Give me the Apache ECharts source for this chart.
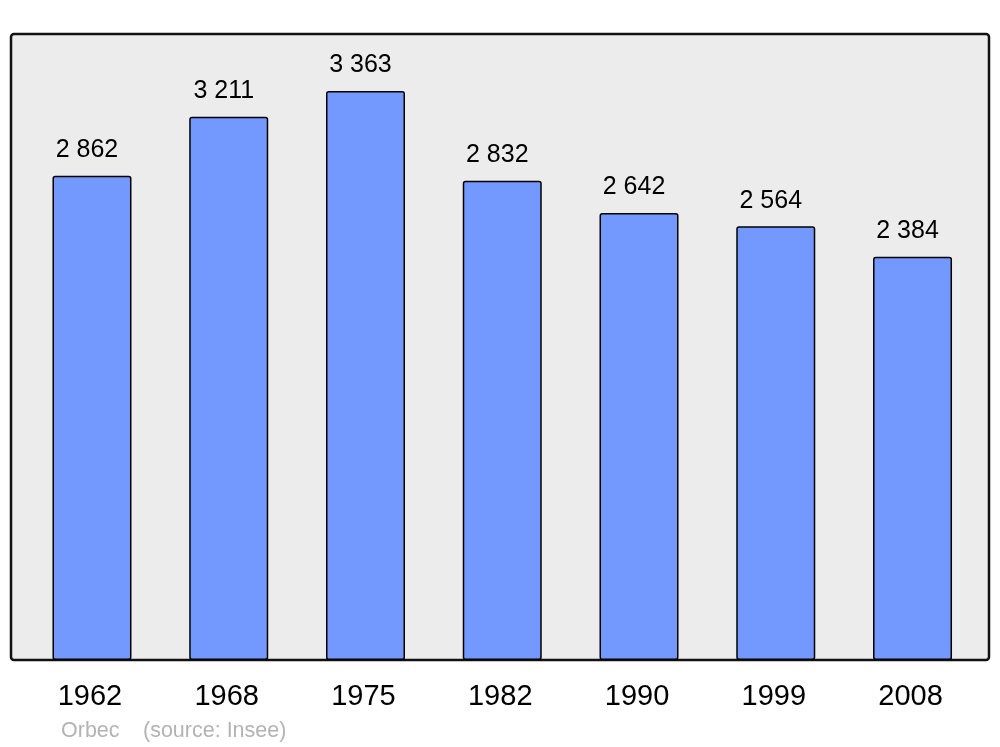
<!DOCTYPE html>
<html><head><meta charset="utf-8">
<script src="https://cdn.jsdelivr.net/npm/echarts@6/dist/echarts.min.js"></script>
<style>html,body{margin:0;padding:0;background:#fff}#c{width:1000px;height:747px}</style>
</head><body><div id="c"></div>
<script>
var years = ['1962','1968','1975','1982','1990','1999','2008'];
var population = [2862, 3211, 3363, 2832, 2642, 2564, 2384];
var footerPlace = 'Orbec';
var footerSource = '(source: Insee)';

function fmt(v){ return String(v).replace(/\B(?=(\d{3})+(?!\d))/g, ' '); }

var chart = echarts.init(document.getElementById('c'), null, {renderer:'canvas'});
chart.setOption({
  animation:false,
  backgroundColor:'#ffffff',
  textStyle:{fontFamily:'Liberation Sans, Arial, sans-serif'},
  graphic:[
    {type:'rect', z:-10, shape:{x:11,y:34,width:978,height:626,r:3},
     style:{fill:'#ececec', stroke:'#111111', lineWidth:2.5}},
    {type:'text', left:61, top:720, style:{text:footerPlace, fill:'#b3b3b3', font:'21.5px Liberation Sans, Arial, sans-serif'}},
    {type:'text', left:143, top:720, style:{text:footerSource, fill:'#b3b3b3', font:'21.5px Liberation Sans, Arial, sans-serif'}}
  ],
  grid:{left:23.6, width:957.3, top:34, bottom:87, containLabel:false},
  xAxis:{type:'category', data:years,
    axisLine:{show:false}, axisTick:{show:false}, splitLine:{show:false},
    axisLabel:{color:'#000', fontSize:29, margin:22, padding:[0,4,0,0], fontFamily:'Liberation Sans, Arial, sans-serif'}},
  yAxis:{type:'value', min:0, max:3700, show:false, splitLine:{show:false}},
  series:[{type:'bar', data:population, barWidth:79,
    itemStyle:{color:'#7399ff', borderColor:'#000', borderWidth:1.5, borderRadius:2},
    label:{show:true, position:'top', distance:13, offset:[-5,0], color:'#000', fontSize:25,
      fontFamily:'Liberation Sans, Arial, sans-serif',
      formatter:function(p){return fmt(p.value);}}
  }]
});
</script></body></html>
